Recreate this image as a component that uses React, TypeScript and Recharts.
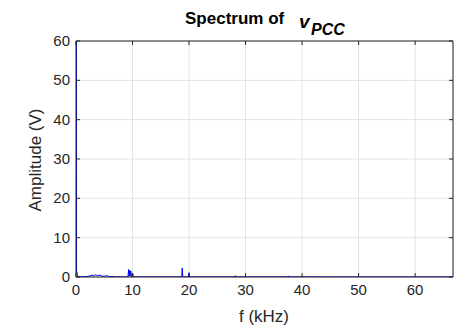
import React from 'react';
import { LineChart, Line, XAxis, YAxis, CartesianGrid, ReferenceLine } from 'recharts';

// spectrum samples (kHz, V). fundamental is clipped by the 60 V limit
const FREQ_KHZ = [
  0, 0.05, 0.1, 0.15, 0.25, 0.35, 1.0, 2.0, 2.5, 3.0, 3.2, 3.5, 3.8, 4.2, 4.6, 5.0, 5.5, 6.0, 6.5, 7.0,
  9.2, 9.3, 9.4, 9.5, 9.6, 9.7, 9.8, 10.05, 10.15,
  18.7, 18.8, 18.9, 19.9, 20.0, 20.1,
  28.1, 28.2, 28.3, 37.5, 37.6, 37.7, 46.9, 47.0, 47.1, 66.7,
];
const AMP_V = [
  0.9, 311, 1.0, 1.2, 0.6, 0.1, 0.05, 0.15, 0.3, 0.5, 0.2, 0.6, 0.3, 0.5, 0.2, 0.2, 0.3, 0.1, 0.15, 0.05,
  0.05, 1.9, 0.2, 1.7, 0.3, 1.5, 0.1, 0.9, 0.05,
  0.05, 2.3, 0.05, 0.05, 1.1, 0.05,
  0.05, 0.35, 0.05, 0.05, 0.3, 0.05, 0.03, 0.12, 0.03, 0.03,
];
const X_TICKS = [0, 10, 20, 30, 40, 50, 60];
const Y_TICKS = [0, 10, 20, 30, 40, 50, 60];
const X_MAX = 66.7;
const Y_MAX = 60;

const W = 455;
const H = 329;
const TOP = 41;
const LEFT = 76;
const RIGHT = 2;
const BOTTOM = 52;
const PLOT_RIGHT = W - RIGHT;

const AX = '#262626';
const FONT = '"Liberation Sans", Arial, Helvetica, sans-serif';

const data = FREQ_KHZ.map((f, i) => ({ f, a: AMP_V[i] }));

const XTick = (props: any) => {
  const { x, y, payload } = props;
  return (
    <g>
      <line x1={x} x2={x} y1={y} y2={y - 4} stroke={AX} />
      <line x1={x} x2={x} y1={TOP} y2={TOP + 4} stroke={AX} />
      <text x={x} y={y + 18} textAnchor="middle" fill={AX} fontSize={15} fontFamily={FONT}>
        {payload.value}
      </text>
    </g>
  );
};

const YTick = (props: any) => {
  const { x, y, payload } = props;
  return (
    <g>
      <line x1={x} x2={x + 4} y1={y} y2={y} stroke={AX} />
      <line x1={PLOT_RIGHT} x2={PLOT_RIGHT - 4} y1={y} y2={y} stroke={AX} />
      <text x={x - 6} y={y + 5} textAnchor="end" fill={AX} fontSize={15} fontFamily={FONT}>
        {payload.value}
      </text>
    </g>
  );
};

export default function App() {
  return (
    <div style={{ position: 'absolute', left: 0, top: 0, width: W, height: H, background: '#fff' }}>
      <LineChart
        width={W}
        height={H}
        data={data}
        margin={{ top: TOP, right: RIGHT, bottom: BOTTOM - 30, left: 0 }}
      >
        <CartesianGrid stroke="#e3e3e3" strokeWidth={1} />
        <XAxis
          dataKey="f"
          type="number"
          domain={[0, X_MAX]}
          ticks={X_TICKS}
          interval={0}
          height={30}
          tickSize={0}
          tickMargin={0}
          tickLine={false}
          tick={<XTick />}
          axisLine={{ stroke: AX }}
          allowDataOverflow
        />
        <YAxis
          type="number"
          domain={[0, Y_MAX]}
          ticks={Y_TICKS}
          interval={0}
          width={LEFT}
          tickSize={0}
          tickMargin={0}
          tickLine={false}
          tick={<YTick />}
          axisLine={{ stroke: AX }}
          allowDataOverflow
        />
        <ReferenceLine x={X_MAX} stroke={AX} />
        <ReferenceLine y={Y_MAX} stroke={AX} />
        <Line
          dataKey="a"
          type="linear"
          stroke="#0000ff"
          strokeWidth={1}
          dot={false}
          activeDot={false}
          isAnimationActive={false}
        />
      </LineChart>
      <svg
        width={W}
        height={H}
        style={{ position: 'absolute', left: 0, top: 0, pointerEvents: 'none' }}
        fontFamily={FONT}
      >
        <text x={185} y={24} fontSize={17} fontWeight="bold" fill="#000">
          Spectrum of
          <tspan x={299} y={28} fontStyle="italic" fontSize={19}>v</tspan>
          <tspan x={311} y={35} fontStyle="italic" fontSize={16}>PCC</tspan>
        </text>
        <text
          x={41}
          y={160}
          transform="rotate(-90 41 160)"
          textAnchor="middle"
          fontSize={17}
          fill={AX}
        >
          Amplitude (V)
        </text>
        <text x={264} y={322} textAnchor="middle" fontSize={17} fill={AX}>
          f (kHz)
        </text>
      </svg>
    </div>
  );
}
